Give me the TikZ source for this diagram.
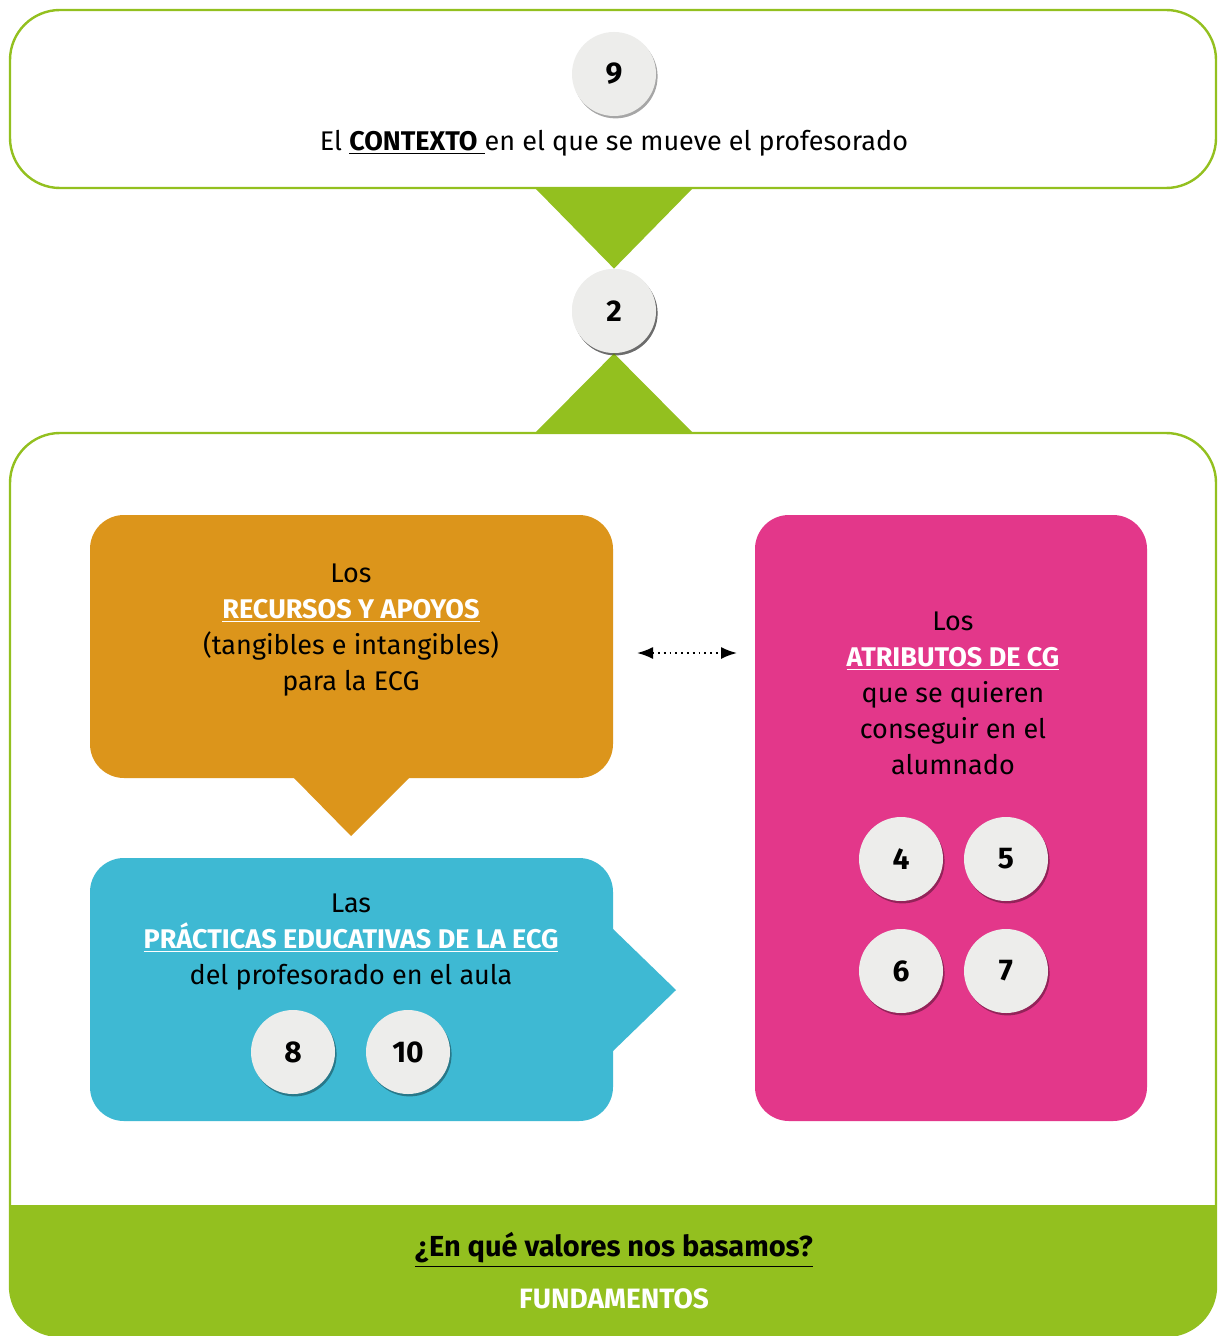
\documentclass[tikz,border=0pt]{standalone}
\usepackage{fontspec}
\setmainfont{Fira Sans}
\usetikzlibrary{arrows.meta,shadows}
\definecolor{verde}{RGB}{147,192,31}
\definecolor{naranja}{RGB}{220,149,27}
\definecolor{azul}{RGB}{62,185,211}
\definecolor{rosa}{RGB}{227,55,138}
\definecolor{gris}{RGB}{237,237,235}

\tikzset{
marco/.style={draw=verde,line width=1.2pt,rounded corners=25pt},
panel/.style={rounded corners=17pt},
num/.style={circle,fill=gris,minimum size=42pt,inner sep=0pt,
  font=\fontsize{15}{15}\selectfont\bfseries,
  drop shadow={shadow xshift=0.8pt,shadow yshift=-1.2pt,fill=black,opacity=0.35}},
texto/.style={align=center,font=\fontsize{13.5}{18}\selectfont}
}

\begin{document}
\begin{tikzpicture}[x=0.5pt,y=-0.5pt]
\useasboundingbox (0,0) rectangle (1217,1336);
\fill[white] (0,0) rectangle (1217,1336);

% marcos
\draw[marco] (10,10) rectangle (1216,188);
\begin{scope}
\clip (0,1205) rectangle (1217,1340);
\fill[verde,rounded corners=25pt] (10,433) rectangle (1216,1336);
\end{scope}
\draw[marco] (10,433) rectangle (1216,1336);

% numeros centrales
\node[num] (n9) at (614,74) {9};
\node[num] (n2) at (614,311) {2};
\fill[verde] (535,188) -- (693,188) -- (n2.north) -- cycle;
\fill[verde] (535,433) -- (693,433) -- (n2.south) -- cycle;
\node[num] (n2) at (614,311) {2};
\node[texto] (ctx) at (614,143) {El \underline{\textbf{CONTEXTO}~}en el que se mueve el profesorado};

% recursos
\fill[naranja,panel] (90,515) rectangle (613,778);
\fill[naranja] (293,777) -- (410,777) -- (351,836) -- cycle;
\node[texto] (rec) at (351,630) {Los\\\textcolor{white}{\underline{\textbf{RECURSOS Y APOYOS}}}\\(tangibles e intangibles)\\para la ECG};

% practicas
\fill[azul,panel] (90,858) rectangle (613,1121);
\fill[azul] (612,928) -- (676,990) -- (612,1052) -- cycle;
\node[texto] (prac) at (351,942) {Las\\\textcolor{white}{\underline{\textbf{PRÁCTICAS EDUCATIVAS DE LA ECG}}}\\del profesorado en el aula};
\node[num] (n8) at (293,1052) {8};
\node[num] (n10) at (408,1052) {10};

% atributos
\fill[rosa,panel] (755,515) rectangle (1147,1121);
\node[texto] (atr) at (953,693) {Los\\\textcolor{white}{\underline{\textbf{ATRIBUTOS DE CG}}}\\que se quieren\\conseguir en el\\alumnado};
\node[num] (n4) at (901,859) {4};
\node[num] (n5) at (1006,859) {5};
\node[num] (n6) at (901,971) {6};
\node[num] (n7) at (1006,971) {7};

% flecha
\coordinate (izq) at (637,653);
\coordinate (der) at (737,653);
\draw[dotted,line width=0.9pt,{Latex[length=8pt,width=6pt]}-{Latex[length=8pt,width=6pt]}] (izq) -- (der);

% fundamentos
\node[texto,font=\fontsize{14.5}{18}\selectfont\bfseries] (preg) at (614,1250) {\underline{¿En qué valores nos basamos?}};
\node[texto,text=white,font=\fontsize{14}{18}\selectfont\bfseries] (fund) at (614,1299) {FUNDAMENTOS};
\end{tikzpicture}
\end{document}
